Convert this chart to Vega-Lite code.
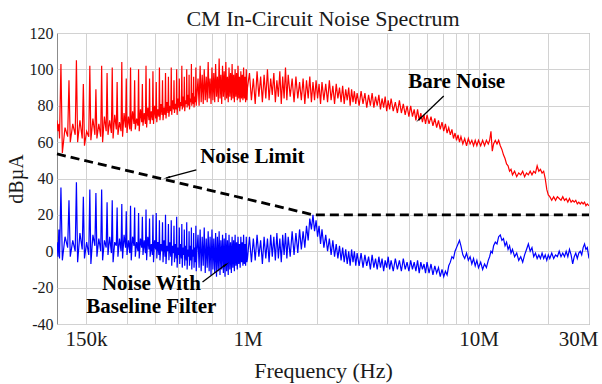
{
  "$schema": "https://vega.github.io/schema/vega-lite/v6.json",
  "width": 532,
  "height": 291,
  "autosize": {"type": "none"},
  "padding": {"left": 57, "top": 33, "right": 13, "bottom": 60},
  "background": "white",
  "title": {"text": "CM In-Circuit Noise Spectrum", "font": "Liberation Serif", "fontSize": 22, "fontWeight": "normal", "color": "#1a1a1a", "offset": -6},
  "config": {
    "view": {"stroke": "#8c8c8c", "strokeWidth": 1},
    "axis": {"gridColor": "#d2d2d2", "gridWidth": 1, "ticks": false, "domain": false, "labelFont": "Liberation Serif", "titleFont": "Liberation Serif", "labelColor": "#1a1a1a", "titleColor": "#1a1a1a", "titleFontWeight": "normal", "labelOverlap": false},
    "style": {"guide-label": {"font": "Liberation Serif"}, "guide-title": {"font": "Liberation Serif"}}
  },
  "datasets": {
    "bare": [
      {"f":0.15,"v":72},{"f":0.1515,"v":66},{"f":0.1528,"v":70},
      {"f":0.1538,"v":62},{"f":0.156,"v":103},{"f":0.1582,"v":54},{"f":0.1625,"v":68},
      {"f":0.1668,"v":63},{"f":0.169,"v":94},{"f":0.1712,"v":60},{"f":0.1755,"v":70},
      {"f":0.1798,"v":64},{"f":0.182,"v":105},{"f":0.1842,"v":60},{"f":0.1885,"v":72},
      {"f":0.1928,"v":62},{"f":0.195,"v":92},{"f":0.1972,"v":58},{"f":0.2015,"v":66},
      {"f":0.2058,"v":63},{"f":0.208,"v":102},{"f":0.2102,"v":61},{"f":0.2145,"v":73},
      {"f":0.2188,"v":64},{"f":0.221,"v":89},{"f":0.2232,"v":62},{"f":0.2275,"v":70},
      {"f":0.2318,"v":63},{"f":0.234,"v":102},{"f":0.2362,"v":60},{"f":0.2405,"v":74},
      {"f":0.2448,"v":66},{"f":0.247,"v":98},{"f":0.2492,"v":64},{"f":0.2535,"v":72},
      {"f":0.2578,"v":65},{"f":0.26,"v":101},{"f":0.2622,"v":62},{"f":0.2665,"v":75},
      {"f":0.2708,"v":67},{"f":0.273,"v":93},{"f":0.2752,"v":64},{"f":0.2795,"v":71},
      {"f":0.2838,"v":66},{"f":0.286,"v":104},{"f":0.2882,"v":63},{"f":0.2925,"v":76},
      {"f":0.2968,"v":68},{"f":0.299,"v":95},{"f":0.3012,"v":65},{"f":0.3055,"v":74},
      {"f":0.3098,"v":67},{"f":0.312,"v":101},{"f":0.3142,"v":66},{"f":0.3185,"v":77},
      {"f":0.3228,"v":70},{"f":0.325,"v":94},{"f":0.3272,"v":67},{"f":0.3315,"v":73},
      {"f":0.3358,"v":69},{"f":0.338,"v":100},{"f":0.3402,"v":66},{"f":0.3445,"v":78},
      {"f":0.3488,"v":71},{"f":0.351,"v":92},{"f":0.3532,"v":69},{"f":0.3575,"v":76},
      {"f":0.3618,"v":70},{"f":0.364,"v":102},{"f":0.3662,"v":68},{"f":0.3705,"v":79},
      {"f":0.3748,"v":72},{"f":0.377,"v":95},{"f":0.3792,"v":70},{"f":0.3835,"v":77},
      {"f":0.3878,"v":72},{"f":0.39,"v":99},{"f":0.3922,"v":70},{"f":0.3965,"v":80},
      {"f":0.4008,"v":73},{"f":0.403,"v":93},{"f":0.4052,"v":71},{"f":0.4095,"v":78},
      {"f":0.4138,"v":74},{"f":0.416,"v":101},{"f":0.4182,"v":72},{"f":0.4225,"v":81},
      {"f":0.4268,"v":75},{"f":0.429,"v":94},{"f":0.4312,"v":72},{"f":0.4355,"v":79},
      {"f":0.4398,"v":75},{"f":0.442,"v":98},{"f":0.4442,"v":73},{"f":0.4485,"v":82},
      {"f":0.4528,"v":76},{"f":0.455,"v":96},{"f":0.4572,"v":74},{"f":0.4615,"v":80},
      {"f":0.4658,"v":77},{"f":0.468,"v":101},{"f":0.4702,"v":75},{"f":0.4745,"v":83},
      {"f":0.4788,"v":78},{"f":0.481,"v":94},{"f":0.4832,"v":76},{"f":0.4875,"v":81},
      {"f":0.4918,"v":78},{"f":0.494,"v":100},{"f":0.4962,"v":75},{"f":0.5005,"v":84},
      {"f":0.5048,"v":79},{"f":0.507,"v":95},{"f":0.5092,"v":77},{"f":0.5135,"v":82},
      {"f":0.5178,"v":80},{"f":0.52,"v":102},{"f":0.5222,"v":78},{"f":0.5265,"v":85},
      {"f":0.5308,"v":79},{"f":0.533,"v":96},{"f":0.5352,"v":77},{"f":0.5395,"v":83},
      {"f":0.5438,"v":81},{"f":0.546,"v":100},{"f":0.5482,"v":79},{"f":0.5525,"v":86},
      {"f":0.5568,"v":80},{"f":0.559,"v":97},{"f":0.5612,"v":78},{"f":0.5655,"v":84},
      {"f":0.5698,"v":82},{"f":0.572,"v":103},{"f":0.5742,"v":80},{"f":0.5785,"v":87},
      {"f":0.5828,"v":81},{"f":0.585,"v":96},{"f":0.5872,"v":79},{"f":0.5915,"v":85},
      {"f":0.5958,"v":82},{"f":0.598,"v":101},{"f":0.6002,"v":80},{"f":0.6045,"v":86},
      {"f":0.611,"v":95},{"f":0.6175,"v":80},{"f":0.624,"v":102},{"f":0.6305,"v":82},
      {"f":0.637,"v":97},{"f":0.6435,"v":81},{"f":0.65,"v":100},{"f":0.6565,"v":83},
      {"f":0.663,"v":96},{"f":0.6695,"v":82},{"f":0.676,"v":104},{"f":0.6825,"v":84},
      {"f":0.689,"v":95},{"f":0.6955,"v":81},{"f":0.702,"v":101},{"f":0.7085,"v":83},
      {"f":0.715,"v":98},{"f":0.7215,"v":82},{"f":0.728,"v":103},{"f":0.7345,"v":85},
      {"f":0.741,"v":96},{"f":0.7475,"v":82},{"f":0.754,"v":106},{"f":0.7605,"v":84},
      {"f":0.767,"v":97},{"f":0.7735,"v":81},{"f":0.78,"v":102},{"f":0.7865,"v":85},
      {"f":0.793,"v":99},{"f":0.7995,"v":83},{"f":0.806,"v":104},{"f":0.8125,"v":84},
      {"f":0.819,"v":96},{"f":0.8255,"v":82},{"f":0.832,"v":101},{"f":0.8385,"v":85},
      {"f":0.845,"v":98},{"f":0.8515,"v":83},{"f":0.858,"v":103},{"f":0.8645,"v":84},
      {"f":0.871,"v":97},{"f":0.8775,"v":82},{"f":0.884,"v":100},{"f":0.8905,"v":85},
      {"f":0.897,"v":98},{"f":0.9035,"v":83},{"f":0.91,"v":102},{"f":0.9165,"v":84},
      {"f":0.923,"v":96},{"f":0.9295,"v":82},{"f":0.936,"v":99},{"f":0.9425,"v":84},
      {"f":0.949,"v":97},{"f":0.9555,"v":83},{"f":0.962,"v":101},{"f":0.9685,"v":84},
      {"f":0.975,"v":96},{"f":0.9815,"v":82},{"f":0.988,"v":100},{"f":0.9945,"v":83},
      {"f":1.0,"v":90},{"f":1.02,"v":98},{"f":1.04,"v":83},{"f":1.06,"v":95},{"f":1.08,"v":81},{"f":1.1,"v":99},{"f":1.12,"v":85},{"f":1.14,"v":96},{"f":1.16,"v":82},{"f":1.18,"v":97},
      {"f":1.2,"v":84},{"f":1.22,"v":100},{"f":1.24,"v":83},{"f":1.26,"v":95},{"f":1.28,"v":86},{"f":1.3,"v":98},{"f":1.32,"v":82},{"f":1.34,"v":94},{"f":1.36,"v":85},{"f":1.38,"v":99},
      {"f":1.4,"v":81},{"f":1.42,"v":96},{"f":1.44,"v":84},{"f":1.46,"v":101},{"f":1.48,"v":83},{"f":1.5,"v":97},{"f":1.53,"v":85},{"f":1.56,"v":95},{"f":1.59,"v":82},{"f":1.62,"v":96},
      {"f":1.65,"v":84},{"f":1.68,"v":93},{"f":1.71,"v":83},{"f":1.74,"v":95},{"f":1.77,"v":81},{"f":1.8,"v":94},{"f":1.83,"v":84},{"f":1.86,"v":96},{"f":1.89,"v":82},{"f":1.92,"v":93},
      {"f":1.95,"v":83},{"f":1.98,"v":94},{"f":2.01,"v":84},{"f":2.04,"v":92},{"f":2.07,"v":81},{"f":2.1,"v":93},{"f":2.14,"v":83},{"f":2.18,"v":92},{"f":2.22,"v":82},{"f":2.26,"v":94},
      {"f":2.3,"v":83},{"f":2.34,"v":91},{"f":2.38,"v":81},{"f":2.42,"v":92},{"f":2.46,"v":84},{"f":2.5,"v":90},{"f":2.54,"v":82},{"f":2.58,"v":91},{"f":2.62,"v":81},{"f":2.66,"v":89},
      {"f":2.7,"v":83},{"f":2.74,"v":90},{"f":2.78,"v":80},{"f":2.82,"v":89},{"f":2.86,"v":82},{"f":2.9,"v":88},{"f":2.94,"v":81},{"f":2.98,"v":87},
      {"f":3.04,"v":80},{"f":3.1,"v":88},{"f":3.16,"v":81},{"f":3.22,"v":87},{"f":3.28,"v":79},{"f":3.34,"v":86},{"f":3.4,"v":80},{"f":3.46,"v":87},{"f":3.52,"v":79},{"f":3.58,"v":85},
      {"f":3.64,"v":80},{"f":3.7,"v":86},{"f":3.76,"v":78},{"f":3.82,"v":84},{"f":3.88,"v":79},{"f":3.94,"v":85},{"f":4.0,"v":77},{"f":4.06,"v":83},{"f":4.12,"v":78},{"f":4.18,"v":84},
      {"f":4.27,"v":77},{"f":4.36,"v":82},{"f":4.45,"v":76},{"f":4.54,"v":83},{"f":4.63,"v":76},{"f":4.72,"v":81},{"f":4.81,"v":75},{"f":4.9,"v":80},{"f":4.99,"v":74},{"f":5.08,"v":80},
      {"f":5.17,"v":74},{"f":5.26,"v":78},{"f":5.35,"v":72},{"f":5.44,"v":78},{"f":5.53,"v":72},{"f":5.62,"v":76},{"f":5.71,"v":71},{"f":5.8,"v":75},{"f":5.89,"v":70},{"f":5.98,"v":75},
      {"f":6.1,"v":70},{"f":6.22,"v":74},{"f":6.34,"v":69},{"f":6.46,"v":73},{"f":6.58,"v":68},{"f":6.7,"v":72},{"f":6.82,"v":67},{"f":6.94,"v":71},{"f":7.06,"v":66},{"f":7.18,"v":70},
      {"f":7.3,"v":65},{"f":7.42,"v":68},{"f":7.54,"v":64},{"f":7.66,"v":67},{"f":7.78,"v":62},{"f":7.9,"v":65},{"f":8.02,"v":61},{"f":8.14,"v":64},{"f":8.26,"v":60},{"f":8.38,"v":63},
      {"f":8.54,"v":59},{"f":8.7,"v":62},{"f":8.86,"v":58},{"f":9.02,"v":62},{"f":9.18,"v":59},{"f":9.34,"v":61},{"f":9.5,"v":58},{"f":9.66,"v":61},{"f":9.82,"v":58},{"f":9.98,"v":61},
      {"f":10.2,"v":58},{"f":10.4,"v":61},{"f":10.6,"v":58},{"f":10.8,"v":61},{"f":11.0,"v":59},{"f":11.15,"v":61},{"f":11.3,"v":66},{"f":11.45,"v":55},{"f":11.6,"v":59},{"f":11.8,"v":61},
      {"f":12.0,"v":59},{"f":12.2,"v":61},{"f":12.4,"v":58},{"f":12.6,"v":56},{"f":12.8,"v":53},{"f":13.0,"v":51},{"f":13.2,"v":48},{"f":13.4,"v":47},{"f":13.6,"v":44},{"f":13.8,"v":45},
      {"f":14.0,"v":42},{"f":14.3,"v":44},{"f":14.6,"v":41},{"f":14.9,"v":43},{"f":15.2,"v":42},{"f":15.5,"v":44},{"f":15.8,"v":41},{"f":16.1,"v":43},{"f":16.4,"v":42},{"f":16.7,"v":44},
      {"f":17.0,"v":42},{"f":17.3,"v":44},{"f":17.6,"v":43},{"f":17.9,"v":47},{"f":18.2,"v":44},{"f":18.5,"v":45},{"f":18.8,"v":43},{"f":19.1,"v":44},{"f":19.4,"v":40},{"f":19.7,"v":34},
      {"f":20.0,"v":31},{"f":20.3,"v":30},{"f":20.7,"v":28},{"f":21.1,"v":30},{"f":21.5,"v":28},{"f":21.9,"v":30},{"f":22.3,"v":29},{"f":22.7,"v":28},{"f":23.1,"v":30},{"f":23.5,"v":28},
      {"f":23.9,"v":29},{"f":24.3,"v":27},{"f":24.7,"v":29},{"f":25.1,"v":27},{"f":25.5,"v":28},{"f":25.9,"v":27},{"f":26.3,"v":28},{"f":26.7,"v":26},{"f":27.1,"v":27},{"f":27.5,"v":26},
      {"f":27.9,"v":27},{"f":28.3,"v":26},{"f":28.7,"v":27},{"f":29.1,"v":25},{"f":29.5,"v":26},{"f":30.0,"v":25}
    ],
    "filt": [
      {"f":0.15,"v":5},{"f":0.1515,"v":-3},{"f":0.1528,"v":12},
      {"f":0.1538,"v":-4},{"f":0.156,"v":35},{"f":0.1582,"v":-5},{"f":0.1625,"v":8},
      {"f":0.1668,"v":2},{"f":0.169,"v":28},{"f":0.1712,"v":-3},{"f":0.1755,"v":6},
      {"f":0.1798,"v":0},{"f":0.182,"v":38},{"f":0.1842,"v":-6},{"f":0.1885,"v":10},
      {"f":0.1928,"v":1},{"f":0.195,"v":30},{"f":0.1972,"v":-4},{"f":0.2015,"v":5},
      {"f":0.2058,"v":-2},{"f":0.208,"v":34},{"f":0.2102,"v":-7},{"f":0.2145,"v":9},
      {"f":0.2188,"v":3},{"f":0.221,"v":32},{"f":0.2232,"v":-3},{"f":0.2275,"v":7},
      {"f":0.2318,"v":0},{"f":0.234,"v":34},{"f":0.2362,"v":-5},{"f":0.2405,"v":6},
      {"f":0.2448,"v":2},{"f":0.247,"v":27},{"f":0.2492,"v":-2},{"f":0.2535,"v":8},
      {"f":0.2578,"v":-1},{"f":0.26,"v":28},{"f":0.2622,"v":-6},{"f":0.2665,"v":5},
      {"f":0.2708,"v":3},{"f":0.273,"v":24},{"f":0.2752,"v":-3},{"f":0.2795,"v":7},
      {"f":0.2838,"v":0},{"f":0.286,"v":26},{"f":0.2882,"v":-4},{"f":0.2925,"v":9},
      {"f":0.2968,"v":2},{"f":0.299,"v":22},{"f":0.3012,"v":-2},{"f":0.3055,"v":6},
      {"f":0.3098,"v":-1},{"f":0.312,"v":25},{"f":0.3142,"v":-5},{"f":0.3185,"v":8},
      {"f":0.3228,"v":3},{"f":0.325,"v":24},{"f":0.3272,"v":-3},{"f":0.3315,"v":5},
      {"f":0.3358,"v":0},{"f":0.338,"v":21},{"f":0.3402,"v":-4},{"f":0.3445,"v":7},
      {"f":0.3488,"v":2},{"f":0.351,"v":19},{"f":0.3532,"v":-2},{"f":0.3575,"v":6},
      {"f":0.3618,"v":-1},{"f":0.364,"v":23},{"f":0.3662,"v":-5},{"f":0.3705,"v":8},
      {"f":0.3748,"v":1},{"f":0.377,"v":18},{"f":0.3792,"v":-3},{"f":0.3835,"v":4},
      {"f":0.3878,"v":-2},{"f":0.39,"v":20},{"f":0.3922,"v":-6},{"f":0.3965,"v":6},
      {"f":0.4008,"v":1},{"f":0.403,"v":21},{"f":0.4052,"v":-4},{"f":0.4095,"v":5},
      {"f":0.4138,"v":-2},{"f":0.416,"v":17},{"f":0.4182,"v":-5},{"f":0.4225,"v":4},
      {"f":0.4268,"v":0},{"f":0.429,"v":16},{"f":0.4312,"v":-6},{"f":0.4355,"v":6},
      {"f":0.4398,"v":-3},{"f":0.442,"v":20},{"f":0.4442,"v":-7},{"f":0.4485,"v":3},
      {"f":0.4528,"v":0},{"f":0.455,"v":15},{"f":0.4572,"v":-5},{"f":0.4615,"v":5},
      {"f":0.4658,"v":-3},{"f":0.468,"v":17},{"f":0.4702,"v":-8},{"f":0.4745,"v":3},
      {"f":0.4788,"v":-1},{"f":0.481,"v":14},{"f":0.4832,"v":-6},{"f":0.4875,"v":4},
      {"f":0.4918,"v":-4},{"f":0.494,"v":19},{"f":0.4962,"v":-9},{"f":0.5005,"v":2},
      {"f":0.5048,"v":-2},{"f":0.507,"v":13},{"f":0.5092,"v":-7},{"f":0.5135,"v":4},
      {"f":0.5178,"v":-4},{"f":0.52,"v":15},{"f":0.5222,"v":-9},{"f":0.5265,"v":2},
      {"f":0.5308,"v":-2},{"f":0.533,"v":12},{"f":0.5352,"v":-8},{"f":0.5395,"v":3},
      {"f":0.5438,"v":-5},{"f":0.546,"v":16},{"f":0.5482,"v":-10},{"f":0.5525,"v":1},
      {"f":0.5568,"v":-3},{"f":0.559,"v":11},{"f":0.5612,"v":-8},{"f":0.5655,"v":3},
      {"f":0.5698,"v":-5},{"f":0.572,"v":13},{"f":0.5742,"v":-10},{"f":0.5785,"v":1},
      {"f":0.5828,"v":-3},{"f":0.585,"v":10},{"f":0.5872,"v":-9},{"f":0.5915,"v":2},
      {"f":0.5958,"v":-6},{"f":0.598,"v":14},{"f":0.6002,"v":-11},{"f":0.6045,"v":0},
      {"f":0.611,"v":9},{"f":0.6175,"v":-9},{"f":0.624,"v":12},{"f":0.6305,"v":-11},
      {"f":0.637,"v":8},{"f":0.6435,"v":-8},{"f":0.65,"v":13},{"f":0.6565,"v":-12},
      {"f":0.663,"v":7},{"f":0.6695,"v":-9},{"f":0.676,"v":11},{"f":0.6825,"v":-11},
      {"f":0.689,"v":8},{"f":0.6955,"v":-13},{"f":0.702,"v":12},{"f":0.7085,"v":-10},
      {"f":0.715,"v":7},{"f":0.7215,"v":-12},{"f":0.728,"v":10},{"f":0.7345,"v":-14},
      {"f":0.741,"v":8},{"f":0.7475,"v":-11},{"f":0.754,"v":11},{"f":0.7605,"v":-13},
      {"f":0.767,"v":6},{"f":0.7735,"v":-10},{"f":0.78,"v":9},{"f":0.7865,"v":-12},
      {"f":0.793,"v":7},{"f":0.7995,"v":-14},{"f":0.806,"v":10},{"f":0.8125,"v":-11},
      {"f":0.819,"v":6},{"f":0.8255,"v":-13},{"f":0.832,"v":9},{"f":0.8385,"v":-10},
      {"f":0.845,"v":5},{"f":0.8515,"v":-12},{"f":0.858,"v":8},{"f":0.8645,"v":-9},
      {"f":0.871,"v":6},{"f":0.8775,"v":-11},{"f":0.884,"v":9},{"f":0.8905,"v":-8},
      {"f":0.897,"v":5},{"f":0.9035,"v":-10},{"f":0.91,"v":8},{"f":0.9165,"v":-7},
      {"f":0.923,"v":4},{"f":0.9295,"v":-9},{"f":0.936,"v":8},{"f":0.9425,"v":-6},
      {"f":0.949,"v":5},{"f":0.9555,"v":-8},{"f":0.962,"v":9},{"f":0.9685,"v":-7},
      {"f":0.975,"v":4},{"f":0.9815,"v":-8},{"f":0.988,"v":8},{"f":0.9945,"v":-6},
      {"f":1.0,"v":-4},{"f":1.02,"v":8},{"f":1.04,"v":-6},{"f":1.06,"v":7},{"f":1.08,"v":-5},{"f":1.1,"v":9},{"f":1.12,"v":-3},{"f":1.14,"v":6},{"f":1.16,"v":-7},{"f":1.18,"v":8},
      {"f":1.2,"v":-4},{"f":1.22,"v":7},{"f":1.24,"v":-6},{"f":1.26,"v":9},{"f":1.28,"v":-3},{"f":1.3,"v":8},{"f":1.32,"v":-5},{"f":1.34,"v":10},{"f":1.36,"v":-4},{"f":1.38,"v":7},
      {"f":1.4,"v":-6},{"f":1.42,"v":9},{"f":1.44,"v":-2},{"f":1.46,"v":10},{"f":1.48,"v":-4},{"f":1.5,"v":8},{"f":1.53,"v":-3},{"f":1.56,"v":11},{"f":1.59,"v":-2},{"f":1.62,"v":10},
      {"f":1.65,"v":-1},{"f":1.68,"v":12},{"f":1.71,"v":1},{"f":1.74,"v":11},{"f":1.77,"v":2},{"f":1.8,"v":14},{"f":1.83,"v":6},{"f":1.86,"v":18},{"f":1.89,"v":12},{"f":1.92,"v":20},
      {"f":1.95,"v":11},{"f":1.98,"v":17},{"f":2.01,"v":8},{"f":2.04,"v":14},{"f":2.07,"v":4},{"f":2.1,"v":12},{"f":2.14,"v":2},{"f":2.18,"v":9},{"f":2.22,"v":0},{"f":2.26,"v":7},
      {"f":2.3,"v":-2},{"f":2.34,"v":6},{"f":2.38,"v":-3},{"f":2.42,"v":4},{"f":2.46,"v":-4},{"f":2.5,"v":3},{"f":2.54,"v":-5},{"f":2.58,"v":2},{"f":2.62,"v":-6},{"f":2.66,"v":1},
      {"f":2.7,"v":-7},{"f":2.74,"v":0},{"f":2.78,"v":-8},{"f":2.82,"v":1},{"f":2.86,"v":-6},{"f":2.9,"v":0},{"f":2.94,"v":-8},{"f":2.98,"v":-1},
      {"f":3.04,"v":-8},{"f":3.1,"v":-1},{"f":3.16,"v":-9},{"f":3.22,"v":-2},{"f":3.28,"v":-8},{"f":3.34,"v":-3},{"f":3.4,"v":-10},{"f":3.46,"v":-2},{"f":3.52,"v":-9},{"f":3.58,"v":-4},
      {"f":3.64,"v":-10},{"f":3.7,"v":-3},{"f":3.76,"v":-9},{"f":3.82,"v":-4},{"f":3.88,"v":-11},{"f":3.94,"v":-5},{"f":4.0,"v":-9},{"f":4.06,"v":-3},{"f":4.12,"v":-10},{"f":4.18,"v":-5},
      {"f":4.27,"v":-11},{"f":4.36,"v":-4},{"f":4.45,"v":-10},{"f":4.54,"v":-5},{"f":4.63,"v":-11},{"f":4.72,"v":-4},{"f":4.81,"v":-10},{"f":4.9,"v":-6},{"f":4.99,"v":-11},{"f":5.08,"v":-5},
      {"f":5.17,"v":-10},{"f":5.26,"v":-6},{"f":5.35,"v":-11},{"f":5.44,"v":-5},{"f":5.53,"v":-12},{"f":5.62,"v":-6},{"f":5.71,"v":-10},{"f":5.8,"v":-7},{"f":5.89,"v":-12},{"f":5.98,"v":-6},
      {"f":6.1,"v":-12},{"f":6.22,"v":-7},{"f":6.34,"v":-13},{"f":6.46,"v":-8},{"f":6.58,"v":-12},{"f":6.7,"v":-9},{"f":6.82,"v":-14},{"f":6.94,"v":-10},{"f":7.06,"v":-14},{"f":7.18,"v":-11},
      {"f":7.3,"v":-13},{"f":7.42,"v":-8},{"f":7.54,"v":-6},{"f":7.66,"v":-3},{"f":7.78,"v":-4},{"f":7.9,"v":0},{"f":8.02,"v":2},{"f":8.14,"v":4},{"f":8.26,"v":6},{"f":8.38,"v":3},
      {"f":8.54,"v":-2},{"f":8.7,"v":-4},{"f":8.86,"v":-1},{"f":9.02,"v":-5},{"f":9.18,"v":-3},{"f":9.34,"v":-7},{"f":9.5,"v":-4},{"f":9.66,"v":-8},{"f":9.82,"v":-5},{"f":9.98,"v":-9},
      {"f":10.2,"v":-6},{"f":10.4,"v":-10},{"f":10.6,"v":-7},{"f":10.8,"v":-9},{"f":11.0,"v":-5},{"f":11.15,"v":-3},{"f":11.3,"v":0},{"f":11.45,"v":-1},{"f":11.6,"v":3},{"f":11.8,"v":5},
      {"f":12.0,"v":4},{"f":12.2,"v":8},{"f":12.4,"v":9},{"f":12.6,"v":6},{"f":12.8,"v":7},{"f":13.0,"v":3},{"f":13.2,"v":5},{"f":13.4,"v":1},{"f":13.6,"v":3},{"f":13.8,"v":-1},
      {"f":14.0,"v":1},{"f":14.3,"v":-3},{"f":14.6,"v":-1},{"f":14.9,"v":-5},{"f":15.2,"v":-3},{"f":15.5,"v":-6},{"f":15.8,"v":-2},{"f":16.1,"v":1},{"f":16.4,"v":4},{"f":16.7,"v":0},
      {"f":17.0,"v":2},{"f":17.3,"v":-3},{"f":17.6,"v":-1},{"f":17.9,"v":-4},{"f":18.2,"v":-2},{"f":18.5,"v":-4},{"f":18.8,"v":-1},{"f":19.1,"v":-4},{"f":19.4,"v":-2},{"f":19.7,"v":-5},
      {"f":20.0,"v":-2},{"f":20.3,"v":-4},{"f":20.7,"v":-1},{"f":21.1,"v":-4},{"f":21.5,"v":-2},{"f":21.9,"v":-3},{"f":22.3,"v":0},{"f":22.7,"v":-3},{"f":23.1,"v":-1},{"f":23.5,"v":-3},
      {"f":23.9,"v":0},{"f":24.3,"v":-3},{"f":24.7,"v":1},{"f":25.1,"v":-2},{"f":25.5,"v":-7},{"f":25.9,"v":-3},{"f":26.3,"v":-1},{"f":26.7,"v":-4},{"f":27.1,"v":-1},{"f":27.5,"v":0},
      {"f":27.9,"v":-2},{"f":28.3,"v":2},{"f":28.7,"v":4},{"f":29.1,"v":1},{"f":29.5,"v":2},{"f":30.0,"v":-4}
    ],
    "limit": [{"f":0.15,"v":53.5},{"f":1.93,"v":20},{"f":30,"v":20}],
    "arrows": [
      {"f":7.06,"v":85.4,"f2":5.5,"v2":72.2},
      {"f":0.601,"v":44.7,"f2":0.446,"v2":40.3},
      {"f":0.639,"v":-16.9,"f2":0.811,"v2":-7}
    ],
    "heads": [
      {"f":5.55,"v":72.8,"k":"bare"},
      {"f":0.452,"v":40.5,"k":"limit"},
      {"f":0.802,"v":-7.6,"k":"filt"}
    ],
    "labels": [
      {"f":8.03,"v":93.3,"t":"Bare Noise"},
      {"f":1.05,"v":51.8,"t":"Noise Limit"},
      {"f":0.384,"v":-18,"t":"Noise With"},
      {"f":0.384,"v":-30.6,"t":"Baseline Filter"}
    ]
  },
  "encoding": {
    "x": {
      "field": "f", "type": "quantitative",
      "scale": {"type": "log", "domain": [0.15, 30], "nice": false},
      "axis": {
        "title": "Frequency (Hz)", "titleFont": "Liberation Serif", "titleFontSize": 22, "titlePadding": 11,
        "values": [0.2,0.3,0.4,0.5,0.6,0.7,0.8,0.9,1,2,3,4,5,6,7,8,9,10,20,30],
        "labelExpr": "datum.value == 0.2 ? '150k' : datum.value == 1 ? '1M' : datum.value == 10 ? '10M' : datum.value == 30 ? '30M' : ''",
        "labelFont": "Liberation Serif", "labelFontSize": 21, "labelPadding": 4, "labelFlush": 3, "labelFlushOffset": 9, "grid": true
      }
    },
    "y": {
      "field": "v", "type": "quantitative",
      "scale": {"domain": [-40, 120], "nice": false},
      "axis": {
        "title": "dBµA", "titleFont": "Liberation Serif", "titleFontSize": 20, "titlePadding": 3,
        "values": [-40,-20,0,20,40,60,80,100,120],
        "labelExpr": "datum.value + ''",
        "labelFont": "Liberation Serif", "labelFontSize": 16, "labelPadding": 4, "grid": true
      }
    }
  },
  "layer": [
    {"data": {"name": "bare"}, "mark": {"type": "line", "color": "#ff0000", "strokeWidth": 1.2, "clip": true}},
    {"data": {"name": "filt"}, "mark": {"type": "line", "color": "#0000ff", "strokeWidth": 1.2, "clip": true}},
    {"data": {"name": "limit"}, "mark": {"type": "line", "color": "#000000", "strokeWidth": 2.8, "strokeDash": [9, 5]}},
    {"data": {"name": "arrows"}, "mark": {"type": "rule", "color": "#000000", "strokeWidth": 1.3},
     "encoding": {"x2": {"field": "f2"}, "y2": {"field": "v2"}}},
    {"data": {"name": "heads"}, "transform": [{"filter": "datum.k == 'bare'"}], "mark": {"type": "point", "shape": "wedge", "filled": true, "color": "#000000", "size": 70, "angle": 226, "opacity": 1}},
    {"data": {"name": "heads"}, "transform": [{"filter": "datum.k == 'limit'"}], "mark": {"type": "point", "shape": "wedge", "filled": true, "color": "#000000", "size": 70, "angle": 255, "opacity": 1}},
    {"data": {"name": "heads"}, "transform": [{"filter": "datum.k == 'filt'"}], "mark": {"type": "point", "shape": "wedge", "filled": true, "color": "#000000", "size": 70, "angle": 53, "opacity": 1}},
    {"data": {"name": "labels"}, "mark": {"type": "text", "font": "Liberation Serif", "fontWeight": "bold", "fontSize": 21, "color": "#000000", "align": "center", "baseline": "middle"},
     "encoding": {"text": {"field": "t"}}}
  ]
}
